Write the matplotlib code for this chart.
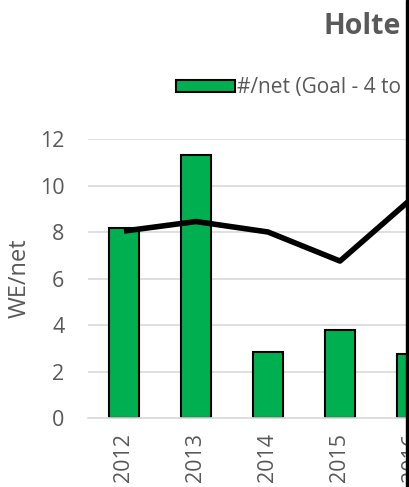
import matplotlib
matplotlib.use("Agg")
from matplotlib import pyplot as plt
from matplotlib.patches import Rectangle

plt.rcParams['font.family'] = ['Open Sans', 'DejaVu Sans']

years = ['2012', '2013', '2014', '2015', '2016']
per_net = [8.17, 11.31, 2.84, 3.8, 2.74]
we_net = [8.04, 8.45, 8.0, 6.75, 9.45]

grey = '#595959'
W, H = 409, 487
fig = plt.figure(figsize=(W / 100, H / 100), dpi=100)

# plot area: left 88px, 0 at y=418, 12 at y=139, 72px per category
left, bottom, top = 88, 418, 139
n = len(years)
ax = fig.add_axes([left / W, (H - bottom) / H, 72 * n / W, (bottom - top) / H])

x = list(range(n))
ax.bar(x, per_net, width=0.41, color='#00B050', edgecolor='black', lw=1.5,
       label='#/net (Goal - 4 to 6)', zorder=2)
ax.plot(x, we_net, color='black', lw=4, solid_capstyle='butt', label='WE/net', zorder=3)

ax.set_xlim(-0.5, n - 0.5)
ax.set_ylim(0, 12)
ax.set_yticks(range(0, 13, 2))
ax.set_xticks(x)
ax.set_xticklabels(years, rotation=90)
ax.tick_params(axis='both', length=0, labelsize=15.5, colors=grey)
ax.tick_params(axis='y', pad=17)
ax.tick_params(axis='x', pad=11)
ax.yaxis.grid(color='#d9d9d9', lw=1.2)
ax.set_axisbelow(True)
for s in ['top', 'right', 'left']:
    ax.spines[s].set_visible(False)
ax.spines['bottom'].set_color('#d9d9d9')
ax.spines['bottom'].set_linewidth(1.2)
ax.set_ylabel('WE/net', fontsize=17, color=grey, labelpad=6)

fig.text(324 / W, 1 - 34 / H, 'Holte', fontsize=20.5, fontweight='bold',
         color=grey, ha='left', va='baseline')

handles, labels = ax.get_legend_handles_labels()
fig.legend(handles[::-1], labels[::-1], loc='center left',
           bbox_to_anchor=(176 / W, 1 - 88 / H), ncol=2, frameon=False,
           fontsize=15, labelcolor=grey, handlelength=2.85, handleheight=0.5,
           handletextpad=0.1, columnspacing=1.5, borderaxespad=0, borderpad=0)

# black border on the right edge
fig.patches.append(Rectangle((406 / W, 0), 1, 1, transform=fig.transFigure,
                             color='black', zorder=10))

fig.savefig('out.png', dpi=100)
